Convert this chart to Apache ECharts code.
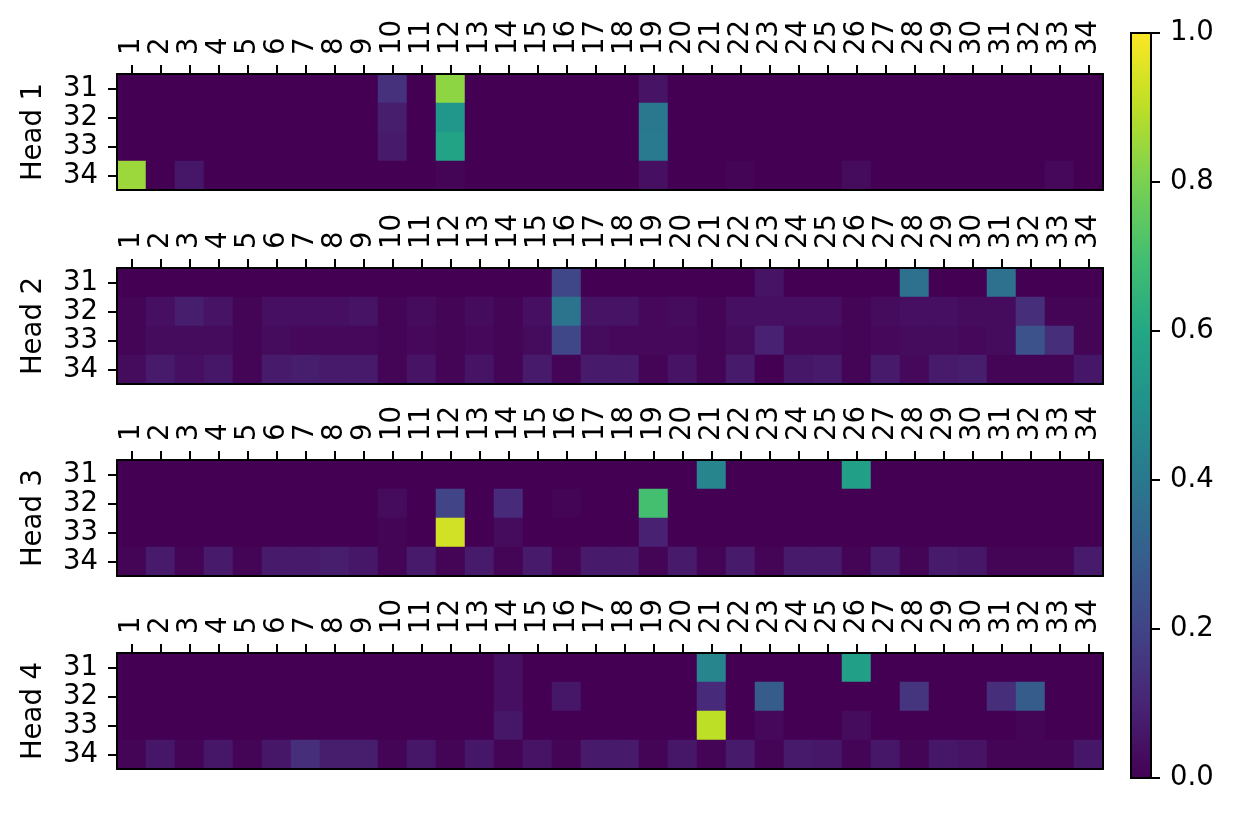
<!DOCTYPE html>
<html>
<head>
<meta charset="utf-8">
<title>Attention heads</title>
<script src="https://cdn.jsdelivr.net/npm/echarts@6/dist/echarts.min.js"></script>
<style>
  html, body { margin: 0; padding: 0; background: #fff; }
  #main { width: 1234px; height: 819px; }
</style>
</head>
<body>
<div id="main"></div>
<script>
// column tokens (1..34) and query rows (31..34)
var colLabels = ['1','2','3','4','5','6','7','8','9','10','11','12','13','14','15','16','17',
                 '18','19','20','21','22','23','24','25','26','27','28','29','30','31','32','33','34'];
var rowLabels = ['31', '32', '33', '34'];
var headNames = ['Head 1', 'Head 2', 'Head 3', 'Head 4'];

// attention weights, one row of 34 values per query token
var head1 = [
  [0,0,0,0,0,0,0,0,0,0.14,0,0.83,0,0,0,0,0,0,0.05,0,0,0,0,0,0,0,0,0,0,0,0,0,0,0],
  [0,0,0,0,0,0,0,0,0,0.08,0,0.52,0,0,0,0,0,0,0.40,0,0,0,0,0,0,0,0,0,0,0,0,0,0,0],
  [0,0,0,0,0,0,0,0,0,0.07,0,0.58,0,0,0,0,0,0,0.41,0,0,0,0,0,0,0,0,0,0,0,0,0,0,0],
  [0.85,0,0.06,0,0,0,0,0,0,0,0,0.01,0,0,0,0,0,
   0,0.04,0,0,0.01,0,0,0,0.03,0,0,0,0,0,0,0.02,0]
];
var head2 = [
  [0,0,0,0,0,0,0,0,0,0,0,0,0,0,0,0.21,0,0,0,0,0,0,0.05,0,0,0,0,0.37,0,0,0.37,0,0,0],
  [0.01,0.04,0.08,0.05,0.01,0.04,0.04,0.04,0.05,0.01,0.03,0.01,0.03,0.01,0.04,0.38,0.05,
   0.05,0.02,0.03,0.01,0.04,0.04,0.04,0.04,0.01,0.03,0.04,0.04,0.03,0.03,0.13,0.01,0.01],
  [0.01,0.03,0.03,0.03,0.01,0.03,0.02,0.02,0.02,0.01,0.02,0.01,0.02,0.01,0.03,0.21,0.03,
   0.02,0.02,0.02,0.01,0.03,0.09,0.02,0.02,0.01,0.02,0.03,0.03,0.02,0.03,0.25,0.13,0.01],
  [0.03,0.07,0.04,0.06,0.01,0.07,0.08,0.07,0.07,0.01,0.05,0.01,0.05,0.01,0.07,0.01,0.07,
   0.07,0.01,0.05,0.01,0.07,0,0.06,0.07,0.01,0.07,0.02,0.07,0.08,0.01,0.01,0.01,0.06]
];
var head3 = [
  [0,0,0,0,0,0,0,0,0,0,0,0,0,0,0,0,0,0,0,0,0.45,0,0,0,0,0.56,0,0,0,0,0,0,0,0],
  [0,0,0,0,0,0,0,0,0,0.03,0,0.20,0,0.12,0,0.01,0,0,0.70,0,0,0,0,0,0,0,0,0,0,0,0,0,0,0],
  [0,0,0,0,0,0,0,0,0,0.01,0,0.93,0,0.03,0,0,0,0,0.09,0,0,0,0,0,0,0,0,0,0,0,0,0,0,0],
  [0.01,0.07,0.01,0.07,0.01,0.07,0.07,0.08,0.06,0.01,0.07,0.01,0.07,0.01,0.07,0.01,0.07,
   0.07,0.01,0.07,0.01,0.07,0.01,0.07,0.07,0.01,0.07,0.01,0.07,0.06,0.01,0.01,0.01,0.07]
];
var head4 = [
  [0,0,0,0,0,0,0,0,0,0,0,0,0,0.04,0,0,0,0,0,0,0.45,0,0,0,0,0.56,0,0,0,0,0,0,0,0],
  [0,0,0,0,0,0,0,0,0,0,0,0,0,0.04,0,0.06,0,0,0,0,0.12,0,0.29,0,0,0,0,0.15,0,0,0.13,0.29,0,0],
  [0,0,0,0,0,0,0,0,0,0,0,0,0,0.06,0,0,0,0,0,0,0.90,0,0.02,0,0,0.03,0,0,0,0,0,0.01,0,0],
  [0.01,0.06,0.01,0.06,0.01,0.06,0.13,0.08,0.08,0.01,0.06,0.01,0.06,0.01,0.05,0.01,0.07,
   0.07,0.01,0.06,0.01,0.07,0.01,0.07,0.06,0.01,0.06,0.01,0.06,0.05,0.01,0.01,0.01,0.06]
];
var heads = [head1, head2, head3, head4];

var viridis = ['#440154','#482475','#414487','#355f8d','#2a788e','#21918c',
               '#22a884','#44bf70','#7ad151','#bddf26','#fde725'];

var FONT = 'DejaVu Sans';
var FS = 27.5;
var gridTops = [74, 268, 460, 653];   // integer cell sizes: 29 x 29 px, no seams

/* global echarts: true */
var myChart = echarts.init(document.getElementById('main'));

var grids = [], xAxes = [], yAxes = [], series = [];
var tickStyle = { color: '#000', width: 2 };
var frameStyle = { color: '#000', width: 2 };

gridTops.forEach(function(top, h) {
  grids.push({ left: 117, width: 986, top: top, height: 116 });

  // top axis with labels
  xAxes.push({
    type: 'category', gridIndex: h, position: 'top', data: colLabels, z: 5,
    axisLine: { show: true, lineStyle: frameStyle },
    axisTick: { show: true, alignWithLabel: true, interval: 0, length: 9, lineStyle: tickStyle },
    axisLabel: { rotate: -90, interval: 0, margin: 19, color: '#000', fontSize: FS, fontFamily: FONT },
    splitLine: { show: false }
  });
  // bottom frame line
  xAxes.push({
    type: 'category', gridIndex: h, position: 'bottom', data: colLabels, z: 5,
    axisLine: { show: true, lineStyle: frameStyle },
    axisTick: { show: false }, axisLabel: { show: false }, splitLine: { show: false }
  });
  yAxes.push({
    type: 'category', gridIndex: h, position: 'left', data: rowLabels, inverse: true, z: 5,
    name: headNames[h], nameLocation: 'middle', nameRotate: 90, nameGap: 69,
    nameTextStyle: { color: '#000', fontSize: FS, fontFamily: FONT },
    axisLine: { show: true, lineStyle: frameStyle },
    axisTick: { show: true, alignWithLabel: true, interval: 0, length: 9, lineStyle: tickStyle },
    axisLabel: { interval: 0, margin: 19, color: '#000', fontSize: FS, fontFamily: FONT },
    splitLine: { show: false }
  });
  // right frame line
  yAxes.push({
    type: 'category', gridIndex: h, position: 'right', data: rowLabels, inverse: true, z: 5,
    axisLine: { show: true, lineStyle: frameStyle },
    axisTick: { show: false }, axisLabel: { show: false }, splitLine: { show: false }
  });

  var data = [];
  heads[h].forEach(function(row, r) {
    row.forEach(function(v, c) { data.push([c, r, v]); });
  });
  series.push({
    type: 'heatmap', xAxisIndex: 2 * h, yAxisIndex: 2 * h, data: data,
    itemStyle: { borderWidth: 0 },
    emphasis: { disabled: true }
  });
});

// colour bar
var stops = viridis.map(function(c, i) { return { offset: i / (viridis.length - 1), color: c }; });
grids.push({
  left: 1131, width: 20, top: 33, height: 745, show: true,
  backgroundColor: new echarts.graphic.LinearGradient(0, 1, 0, 0, stops),
  borderColor: '#000', borderWidth: 2
});
xAxes.push({ type: 'category', gridIndex: 4, data: [''], show: false });
yAxes.push({
  type: 'value', gridIndex: 4, position: 'right', min: 0, max: 1, interval: 0.2,
  axisLine: { show: false },
  axisTick: { show: true, length: 9, lineStyle: tickStyle },
  axisLabel: {
    margin: 19, color: '#000', fontSize: FS, fontFamily: FONT,
    formatter: function(v) { return v.toFixed(1); }
  },
  splitLine: { show: false }
});

var option = {
  backgroundColor: '#fff',
  animation: false,
  grid: grids,
  xAxis: xAxes,
  yAxis: yAxes,
  visualMap: {
    type: 'continuous', show: false, min: 0, max: 1,
    seriesIndex: [0, 1, 2, 3],
    inRange: { color: viridis }
  },
  series: series
};

myChart.setOption(option);
</script>
</body>
</html>
